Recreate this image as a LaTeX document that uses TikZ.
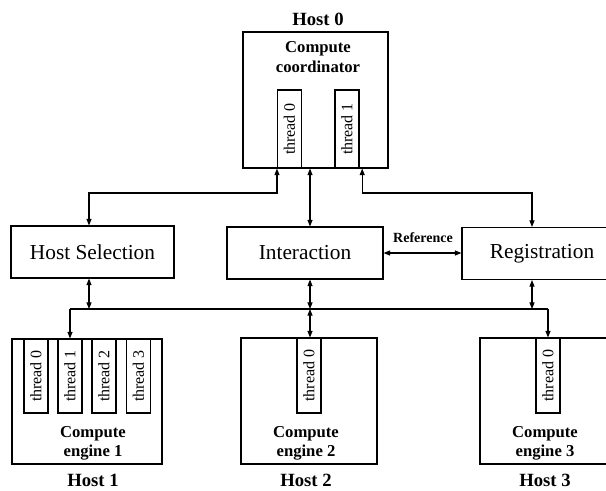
\documentclass[tikz,border=0pt]{standalone}
\usepackage{fontspec}
\setmainfont{Liberation Serif}
\usetikzlibrary{arrows.meta,calc}
\begin{document}
\begin{tikzpicture}[x=0.75pt,y=-0.75pt,
  line width=0.8pt,
  >={Triangle[length=5pt,width=3.8pt]},
  hostbox/.style={draw, inner sep=0pt},
  modbox/.style={draw, inner sep=0pt, minimum height=52*0.75pt,
    font=\fontsize{16}{19}\selectfont},
  thr/.style={draw, fill=white, inner sep=0pt, rotate=90,
    minimum height=24*0.75pt, font=\fontsize{12}{14}\selectfont},
  hostlbl/.style={anchor=base, text depth=0pt, inner sep=1pt,
    font=\fontsize{14}{16}\selectfont\bfseries},
  unitlbl/.style={align=center, font=\fontsize{12.5}{14.4}\selectfont\bfseries},
  reflbl/.style={font=\fontsize{10.5}{12}\selectfont\bfseries}]
\clip (0,0) rectangle (606,490);

% Host 0: the compute coordinator
\node[hostbox, minimum width=145*0.75pt, minimum height=136*0.75pt] (h0) at (315.5,100) {};
\node[hostlbl] (h0n) at (318,25) {Host 0};
\node[unitlbl] (cc) at (318,57) {Compute\\coordinator};
\node[thr, minimum width=78*0.75pt] (c0) at (289.5,129) {thread 0};
\node[thr, minimum width=78*0.75pt] (c1) at (347,129) {thread 1};

% Middle row of services
\node[modbox, minimum width=163*0.75pt] (hs) at (92.5,252) {Host Selection};
\node[modbox, minimum width=156*0.75pt] (ia) at (305,253) {Interaction};
\node[modbox, minimum width=160*0.75pt] (rg) at (542,253.5) {Registration};
\node[reflbl] (ref) at (423,238) {Reference};

% Host 1: compute engine with four threads
\node[hostbox, minimum width=150*0.75pt, minimum height=125*0.75pt] (h1) at (87,401.5) {};
\node[thr, minimum width=74*0.75pt] (e1t0) at (36,376) {thread 0};
\node[thr, minimum width=74*0.75pt] (e1t1) at (70,376) {thread 1};
\node[thr, minimum width=74*0.75pt] (e1t2) at (104,376) {thread 2};
\node[thr, minimum width=74*0.75pt] (e1t3) at (138.5,376) {thread 3};
\node[unitlbl] (ce1) at (93,443) {Compute\\engine 1};
\node[hostlbl] (h1n) at (93,486) {Host 1};

% Host 2
\node[hostbox, minimum width=136*0.75pt, minimum height=126*0.75pt] (h2) at (309,401) {};
\node[thr, minimum width=75*0.75pt] (e2t0) at (309,375.5) {thread 0};
\node[unitlbl] (ce2) at (306,443) {Compute\\engine 2};
\node[hostlbl] (h2n) at (306,486) {Host 2};

% Host 3
\node[hostbox, minimum width=132*0.75pt, minimum height=126*0.75pt] (h3) at (546,401) {};
\node[thr, minimum width=75*0.75pt] (e3t0) at (548,375.5) {thread 0};
\node[unitlbl] (ce3) at (545,443) {Compute\\engine 3};
\node[hostlbl] (h3n) at (545,486) {Host 3};

% Routing guides (thread boxes are turned by 90 degrees, so their
% "east" is the top edge and "north west"/"south west" the bottom corners)
\coordinate (rowA) at (0,193);
\coordinate (bus) at (0,309);
\coordinate (hsx) at (89,0);
\coordinate (mid) at (310,0);
\coordinate (regx) at (532,0);

% Coordinator to services
\draw[<->] (hs.north -| hsx) |- (rowA -| c0.north west) -- (c0.north west);
\draw[<->] (ia.north -| mid) -- (h0.south -| mid);
\draw[<->] (rg.north -| regx) |- ([xshift=2pt]rowA -| c1.south west) -- ([xshift=2pt]c1.south west);
\draw[<->] (ia.east) -- (rg.west |- ia.east);

% Services to compute engines
\draw (bus -| e1t1.east) -- (bus -| e3t0.east);
\draw[<->] (hs.south -| hsx) -- (bus -| hsx);
\draw[<->] (ia.south -| mid) -- (bus -| mid);
\draw[<->] (bus -| mid) -- (e2t0.east -| mid);
\draw[<->] (rg.south -| regx) -- (bus -| regx);
\draw[->] (bus -| e1t1.east) -- (e1t1.east);
\draw[->] (bus -| e3t0.east) -- (e3t0.east);
\end{tikzpicture}
\end{document}
